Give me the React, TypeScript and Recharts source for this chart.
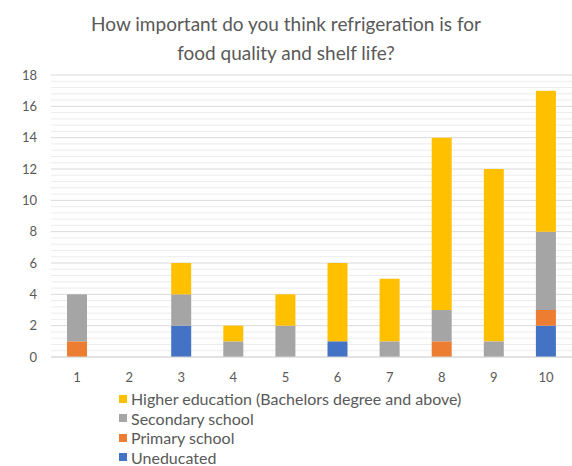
import React from 'react';
import { BarChart, Bar, XAxis, YAxis, CartesianGrid, Legend, ReferenceLine } from 'recharts';

const categories = ['1', '2', '3', '4', '5', '6', '7', '8', '9', '10'];
const uneducated = [0, 0, 2, 0, 0, 1, 0, 0, 0, 2];
const primary = [1, 0, 0, 0, 0, 0, 0, 1, 0, 1];
const secondary = [3, 0, 2, 1, 2, 0, 1, 2, 1, 5];
const higher = [0, 0, 2, 1, 2, 5, 4, 11, 11, 9];
const yTicks = [0, 2, 4, 6, 8, 10, 12, 14, 16, 18];
const minorTicks: number[] = [];
for (let i = 0; i <= 45; i++) {
  const v = Math.round(i * 0.4 * 10) / 10;
  if (Math.abs(v / 2 - Math.round(v / 2)) > 1e-6) minorTicks.push(v);
}

const data = categories.map((c, i) => ({
  name: c,
  uneducated: uneducated[i],
  primary: primary[i],
  secondary: secondary[i],
  higher: higher[i],
}));

const series = [
  { key: 'uneducated', name: 'Uneducated', color: '#4472C4' },
  { key: 'primary', name: 'Primary school', color: '#ED7D31' },
  { key: 'secondary', name: 'Secondary school', color: '#A5A5A5' },
  { key: 'higher', name: 'Higher education (Bachelors degree and above)', color: '#FFC000' },
];

const FONT = 'Lato, "Open Sans", sans-serif';

const LegendContent = () => (
  <div style={{ fontFamily: FONT, fontSize: 16, lineHeight: '19px', color: '#595959' }}>
    {[...series].reverse().map((s) => (
      <div key={s.key} style={{ height: 19.5, display: 'flex', alignItems: 'center' }}>
        <span style={{ display: 'inline-block', width: 8, height: 8, background: s.color, marginRight: 4 }} />
        <span>{s.name}</span>
      </div>
    ))}
  </div>
);

export default function App() {
  return (
    <div style={{ position: 'absolute', left: 0, top: 0, width: 572, height: 466, background: '#fff', overflow: 'hidden' }}>
      <div
        style={{
          position: 'absolute',
          left: 0,
          top: 9,
          width: 572,
          textAlign: 'center',
          fontFamily: FONT,
          fontSize: 19,
          lineHeight: '29px',
          color: '#595959',
        }}
      >
        How important do you think refrigeration is for
        <br />
        food quality and shelf life?
      </div>
      <BarChart
        width={572}
        height={466}
        data={data}
        margin={{ top: 75, right: 0, bottom: 79, left: 0 }}
        barSize={20}
      >
        <CartesianGrid vertical={false} stroke="#d9d9d9" strokeWidth={1} />
        {minorTicks.map((t) => (
          <ReferenceLine key={t} y={t} stroke="#ececec" strokeWidth={1} zIndex={-90} />
        ))}
        <YAxis
          domain={[0, 18]}
          ticks={yTicks}
          width={51}
          tickLine={false}
          axisLine={false}
          tickSize={0}
          tickMargin={14}
          tick={{ fill: '#595959', fontSize: 13, fontFamily: FONT }}
        />
        <XAxis
          dataKey="name"
          height={30}
          tickLine={false}
          axisLine={{ stroke: '#d9d9d9' }}
          tickSize={0}
          tickMargin={16}
          tick={{ fill: '#595959', fontSize: 13, fontFamily: FONT }}
        />
        <Legend
          layout="vertical"
          align="center"
          verticalAlign="middle"
          wrapperStyle={{ top: 389, left: 119, width: 420 }}
          content={LegendContent}
        />
        {series.map((s) => (
          <Bar key={s.key} dataKey={s.key} name={s.name} stackId="a" fill={s.color} isAnimationActive={false} />
        ))}
      </BarChart>
    </div>
  );
}
